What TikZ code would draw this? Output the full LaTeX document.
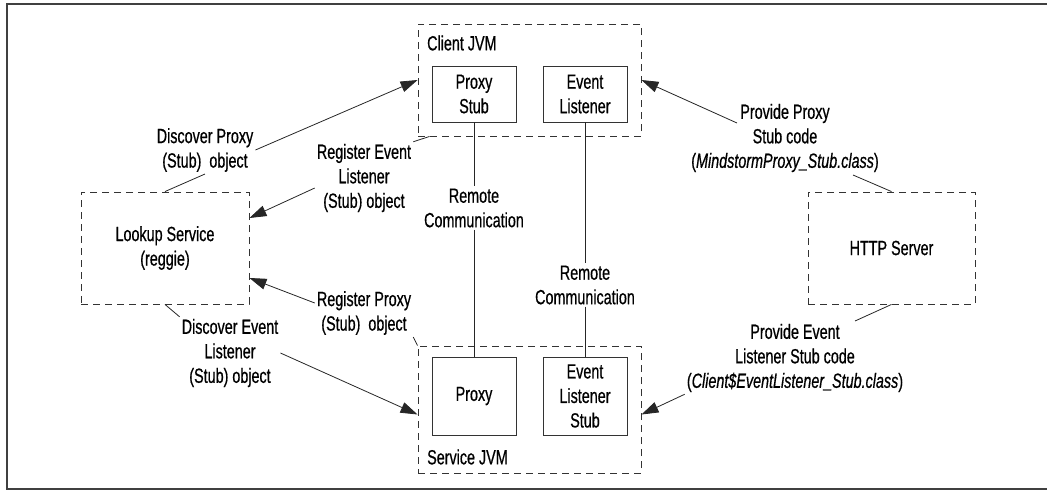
\documentclass[tikz,border=0pt]{standalone}
\usepackage{fontspec}
\setmainfont{Liberation Sans}[FakeStretch=0.7, FakeBold=0.6]
\usetikzlibrary{arrows.meta}

\begin{document}
\begin{tikzpicture}[x=1pt, y=-1pt, font=\fontsize{20.5}{24.5}\selectfont,
  box/.style={draw=black!80, line width=0.9pt, align=center, inner sep=0pt},
  jvm/.style={draw=black!80, line width=0.9pt, dash pattern=on 7pt off 5pt, align=center, inner sep=0pt},
  note/.style={align=center, inner sep=2pt},
  link/.style={draw=black!85, line width=0.8pt},
  arr/.style={link, -{Triangle[length=17pt,width=11pt]}}]
  \useasboundingbox (0,0) rectangle (1047,491);
  % page frame, open on the right
  \draw[black!75, line width=1.6pt] (1047,4) -- (7,4) -- (7,489) -- (1047,489);
  % dashed containers
  \node[jvm, minimum width=223pt, minimum height=112pt] (client) at (529.5,80) {};
  \node[jvm, minimum width=223pt, minimum height=127pt] (service) at (529.5,409.5) {};
  \node[jvm, minimum width=168pt, minimum height=112pt] (lookup) at (165,248) {Lookup Service\\(reggie)};
  \node[jvm, minimum width=167pt, minimum height=112pt] (http) at (891.5,248) {HTTP Server};
  \node[anchor=west, inner sep=0pt] (clientlbl) at (427,43) {Client JVM};
  \node[anchor=west, inner sep=0pt] (servicelbl) at (427,457) {Service JVM};
  % objects inside the JVMs
  \node[box, minimum width=84pt, minimum height=56pt] (pstub) at (474,94) {Proxy\\Stub};
  \node[box, minimum width=84pt, minimum height=56pt] (elistener) at (585,94) {Event\\Listener};
  \node[box, minimum width=84pt, minimum height=78pt] (proxy) at (474,396) {Proxy};
  \node[box, minimum width=84pt, minimum height=78pt] (elstub) at (585,396) {Event\\Listener\\Stub};
  % remote links
  \node[note] (rc1) at (474,208) {Remote\\Communication};
  \node[note] (rc2) at (585,285) {Remote\\Communication};
  \draw[link] (pstub) -- (rc1) -- (proxy);
  \draw[link] (elistener) -- (rc2) -- (elstub);
  % message labels
  \node[note] (discproxy) at (205,150) {Discover Proxy\\(Stub)~~object};
  \node[note] (regevent) at (364,178) {Register Event\\Listener\\(Stub) object};
  \node[note] (regproxy) at (364,313) {Register Proxy\\(Stub)~~object};
  \node[note] (discevent) at (230,353) {Discover Event\\Listener\\(Stub) object};
  \node[note] (provproxy) at (785,138) {Provide Proxy\\Stub code\\(\textit{MindstormProxy\_Stub.class})};
  \node[note] (provevent) at (795,358) {Provide Event\\Listener Stub code\\(\textit{Client\$EventListener\_Stub.class})};
  % lookup side
  \draw[link] (lookup.north) -- (discproxy.south);
  \draw[arr] (discproxy.east) -- (client.west);
  \draw[link] ([xshift=12pt]client.south west) -- (regevent.north east);
  \draw[arr] ([yshift=-10pt]regevent.west) -- ([yshift=30pt]lookup.east);
  \draw[link] (service.north west) -- (regproxy.south east);
  \draw[arr] ([yshift=10pt]regproxy.west) -- ([yshift=-30pt]lookup.east);
  \draw[link] (lookup.south) -- (discevent.north west);
  \draw[arr] (discevent.east) -- ([yshift=-5pt]service.west);
  % http side
  \draw[link] (http.north) -- ([xshift=68pt,yshift=-37pt]provproxy.center);
  \draw[arr] ([xshift=-48pt,yshift=15pt]provproxy.center) -- (client.east);
  \draw[link] (http.south) -- ([xshift=60pt,yshift=37pt]provevent.center);
  \draw[arr] (provevent.south west) -- ([yshift=-5pt]service.east);
\end{tikzpicture}
\end{document}
